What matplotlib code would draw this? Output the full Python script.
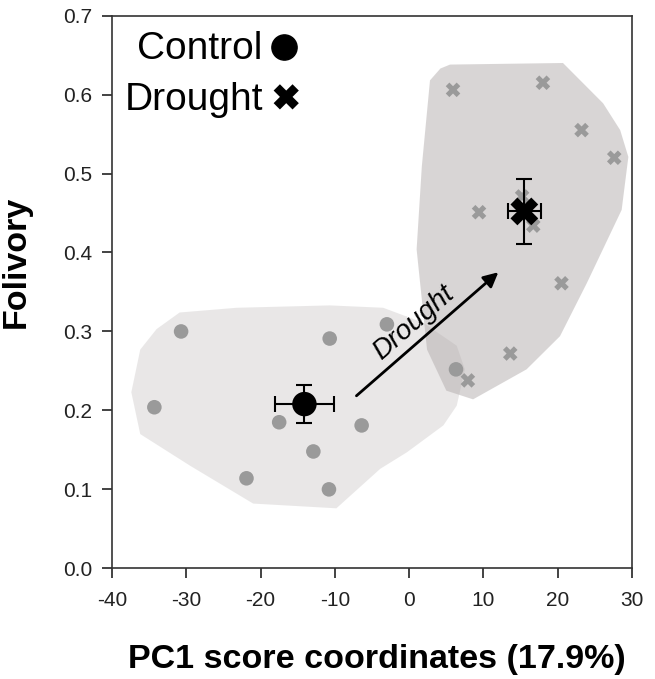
import numpy as np
import matplotlib
matplotlib.use("Agg")
import matplotlib.pyplot as plt
from matplotlib.patches import Polygon

plt.rcParams['font.family'] = ['Liberation Sans', 'DejaVu Sans']
plt.rcParams['axes.unicode_minus'] = False

# individual plots (PC1 score, folivory)
ctrl_x = [-30.7, -34.3, -10.7, -3.0, -17.5, -6.4, -12.9, -21.9, -10.8, 6.3]
ctrl_y = [0.300, 0.204, 0.291, 0.309, 0.185, 0.181, 0.148, 0.114, 0.100, 0.252]
drou_x = [5.9, 18.0, 23.2, 27.6, 9.4, 15.2, 16.7, 20.5, 13.6, 7.9]
drou_y = [0.606, 0.615, 0.555, 0.520, 0.451, 0.471, 0.434, 0.361, 0.272, 0.238]

# treatment means with standard errors
ctrl_mean = (-14.1, 0.208)
ctrl_err = (4.0, 0.024)
drou_mean = (15.5, 0.452)
drou_err = (2.25, 0.041)

# outlines of the group envelopes
ctrl_hull = [(-30.9, 0.324), (-23.2, 0.330), (-10.7, 0.333), (-3.5, 0.330),
             (1.9, 0.311), (6.4, 0.282), (7.5, 0.252), (6.4, 0.206),
             (4.6, 0.181), (-0.3, 0.147), (-3.9, 0.126), (-9.8, 0.076),
             (-21.0, 0.082), (-29.5, 0.130), (-36.2, 0.170), (-37.4, 0.223),
             (-36.2, 0.277), (-34.0, 0.303)]
drou_hull = [(5.5, 0.638), (20.7, 0.640), (26.1, 0.589), (28.4, 0.555),
             (29.5, 0.521), (28.6, 0.454), (23.9, 0.361), (20.3, 0.294),
             (15.8, 0.252), (8.6, 0.214), (5.0, 0.225), (2.4, 0.277),
             (1.0, 0.404), (1.7, 0.509), (2.8, 0.618), (4.2, 0.633)]

fig = plt.figure(figsize=(6.55, 6.79), dpi=100)
ax = fig.add_axes([0.171, 0.163, 0.794, 0.814])

ax.add_patch(Polygon(ctrl_hull, closed=True, facecolor='#c9c5c5', alpha=0.4,
                     edgecolor='none', zorder=1))
ax.add_patch(Polygon(drou_hull, closed=True, facecolor='#b3adad', alpha=0.5,
                     edgecolor='none', zorder=1))

ax.scatter(ctrl_x, ctrl_y, s=110, marker='o', color='#9a9a9a', edgecolor='none', zorder=3)
ax.scatter(drou_x, drou_y, s=110, marker='X', color='#9a9a9a', edgecolor='none', zorder=3)

ax.errorbar(ctrl_mean[0], ctrl_mean[1], xerr=ctrl_err[0], yerr=ctrl_err[1],
            fmt='none', ecolor='black', elinewidth=1.5, capsize=6, capthick=1.5, zorder=4)
ax.errorbar(drou_mean[0], drou_mean[1], xerr=drou_err[0], yerr=drou_err[1],
            fmt='none', ecolor='black', elinewidth=1.5, capsize=6, capthick=1.5, zorder=4)
ax.scatter(*ctrl_mean, s=310, marker='o', color='black', edgecolor='none', zorder=5)
ax.scatter(*drou_mean, s=400, marker='X', color='black', edgecolor='none', zorder=5)

# drought shift arrow
ax.annotate('', xy=(12.0, 0.375), xytext=(-7.1, 0.2185),
            arrowprops=dict(arrowstyle='-|>', color='black', lw=2, mutation_scale=22,
                            shrinkA=0, shrinkB=0), zorder=6)
ax.text(0.6, 0.311, 'Drought', fontsize=20, style='italic', rotation=41,
        ha='center', va='center', rotation_mode='anchor', zorder=6)

# legend
ax.text(0.29, 0.939, 'Control', transform=ax.transAxes, fontsize=28,
        ha='right', va='center')
ax.text(0.29, 0.848, 'Drought', transform=ax.transAxes, fontsize=28,
        ha='right', va='center')
ax.scatter([0.331], [0.944], s=330, marker='o', color='black', transform=ax.transAxes,
           clip_on=False, zorder=6)
ax.scatter([0.335], [0.853], s=330, marker='X', color='black', edgecolor='none',
           transform=ax.transAxes, clip_on=False, zorder=6)

ax.set_xlim(-40, 30)
ax.set_ylim(0, 0.7)
ax.set_xticks(np.arange(-40, 31, 10))
ax.set_yticks(np.arange(0, 0.71, 0.1))
ax.set_yticklabels([f'{v:.1f}' for v in np.arange(0, 0.71, 0.1)])
ax.tick_params(axis='both', direction='out', length=7, width=1.2, labelsize=15,
               colors='#222222')
ax.tick_params(axis='x', pad=9)
ax.tick_params(axis='y', pad=7)
ax.tick_params(top=False, right=False)
for s in ax.spines.values():
    s.set_linewidth(1.2)
    s.set_color('#333333')

ax.set_xlabel('PC1 score coordinates (17.9%)', fontsize=24.5, fontweight='bold')
ax.set_ylabel('Folivory', fontsize=24.5, fontweight='bold')
ax.xaxis.set_label_coords(0.51, -0.137)
ax.yaxis.set_label_coords(-0.155, 0.554)

fig.savefig('out.png', dpi=100)
